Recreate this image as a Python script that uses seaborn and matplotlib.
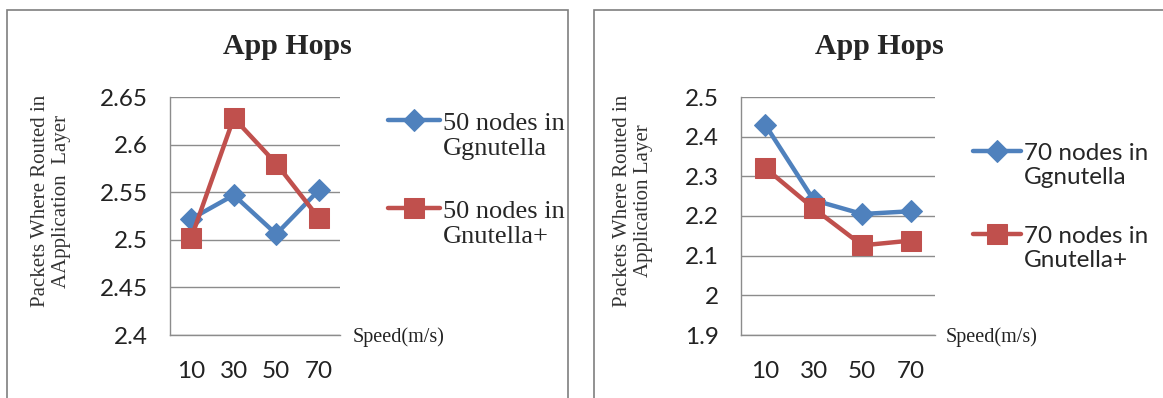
import numpy as np
import pandas as pd
import seaborn as sns
import matplotlib.pyplot as plt
from matplotlib.patches import Rectangle
from matplotlib.legend_handler import HandlerLine2D

# datos
speeds = ["10", "30", "50", "70"]
g50 = [2.522, 2.547, 2.506, 2.552]
gp50 = [2.502, 2.628, 2.580, 2.523]
g70 = [2.430, 2.240, 2.205, 2.212]
gp70 = [2.321, 2.219, 2.126, 2.138]
yticks_left = [2.4, 2.45, 2.5, 2.55, 2.6, 2.65]
yticks_right = [1.9, 2.0, 2.1, 2.2, 2.3, 2.4, 2.5]

sns.set_style("white")
plt.rcParams['font.family'] = ['Lato', 'DejaVu Sans']

BLUE = "#4F81BD"
RED = "#C0504D"
GRID = "#8C8C8C"

fig = plt.figure(figsize=(11.63, 3.98), dpi=100)
W, H = 1163, 398

def fx(px):
    return px / W

def fy(py):
    return 1 - py / H


# handle de leyenda alineado con la primera linea del texto (como Excel)
class HandlerArriba(HandlerLine2D):
    def create_artists(self, legend, orig_handle, xdescent, ydescent, width, height, fontsize, trans):
        arts = super().create_artists(legend, orig_handle, xdescent, ydescent, width, height, fontsize, trans)
        for a in arts:
            a.set_ydata(np.asarray(a.get_ydata(), dtype=float) + 0.6 * fontsize)
        return arts


# marcos de cada panel
fig.patches.append(Rectangle((fx(7), fy(420)), fx(561), fy(10) - fy(420), transform=fig.transFigure,
                             fill=False, edgecolor="#7F7F7F", linewidth=1.2))
fig.patches.append(Rectangle((fx(594), fy(420)), fx(600), fy(10) - fy(420), transform=fig.transFigure,
                             fill=False, edgecolor="#7F7F7F", linewidth=1.2))

def panel(rect, s1, s2, labels, yticks, ylabel, ylabel_x, title_x, speed_x, leg_xy, leg_font, leg_size):
    ax = fig.add_axes(rect)
    df1 = pd.DataFrame({"speed": speeds, "v": s1})
    df2 = pd.DataFrame({"speed": speeds, "v": s2})
    sns.lineplot(data=df1, x="speed", y="v", ax=ax, color=BLUE, linewidth=3.2, marker="D",
                 markersize=11, markeredgecolor=BLUE, label=labels[0], sort=False)
    sns.lineplot(data=df2, x="speed", y="v", ax=ax, color=RED, linewidth=3.2, marker="s",
                 markersize=14, markeredgecolor=RED, label=labels[1], sort=False)
    ax.set_xlim(-0.5, 3.5)
    ax.set_ylim(yticks[0], yticks[-1])
    ax.set_yticks(yticks)
    ax.set_yticklabels([f"{t:g}" for t in yticks])
    ax.yaxis.grid(True, color=GRID, linewidth=1)
    ax.xaxis.grid(False)
    for s in ["top", "right"]:
        ax.spines[s].set_visible(False)
    for s in ["left", "bottom"]:
        ax.spines[s].set_color(GRID)
        ax.spines[s].set_linewidth(1)
    ax.tick_params(axis="x", labelsize=17.5, pad=19, length=0, colors="#222222")
    ax.tick_params(axis="y", labelsize=17.5, pad=16, length=0, colors="#222222")
    ax.set_xlabel("")
    ax.set_ylabel("")
    fig.text(fx(title_x), fy(47), "App Hops", ha="center", va="center",
             family="Liberation Serif", fontweight="bold", fontsize=21.5)
    fig.text(fx(ylabel_x), fy(201), ylabel, ha="center", va="center", rotation=90,
             family="Liberation Serif", fontsize=15, color="#333333", multialignment="center",
             linespacing=1.1)
    fig.text(fx(speed_x), fy(337), "Speed(m/s)", ha="left", va="center",
             family="Liberation Serif", fontsize=14.5, color="#222222")
    ax.legend(loc="upper left", bbox_to_anchor=(fx(leg_xy[0]), fy(leg_xy[1])),
              bbox_transform=fig.transFigure, frameon=False, handlelength=2.0,
              handletextpad=0.1, labelspacing=1.55, borderaxespad=0,
              prop={"family": leg_font, "size": leg_size}, numpoints=1,
              handler_map={plt.Line2D: HandlerArriba()})
    return ax

panel([fx(170), fy(335), fx(170), fy(97) - fy(335)], g50, gp50,
      ["50 nodes in\nGgnutella", "50 nodes in\nGnutella+"], yticks_left,
      "Packets Where Routed in\nAApplication  Layer", 51, 287, 353, (377, 102), "Liberation Serif", 19)

panel([fx(741), fy(335), fx(194), fy(97) - fy(335)], g70, gp70,
      ["70 nodes in\nGgnutella", "70 nodes in\nGnutella+"], yticks_right,
      "Packets Where Routed in\nApplication Layer", 633, 879, 946, (963, 133), "Lato", 17.5)

plt.savefig("out.png", dpi=100)
